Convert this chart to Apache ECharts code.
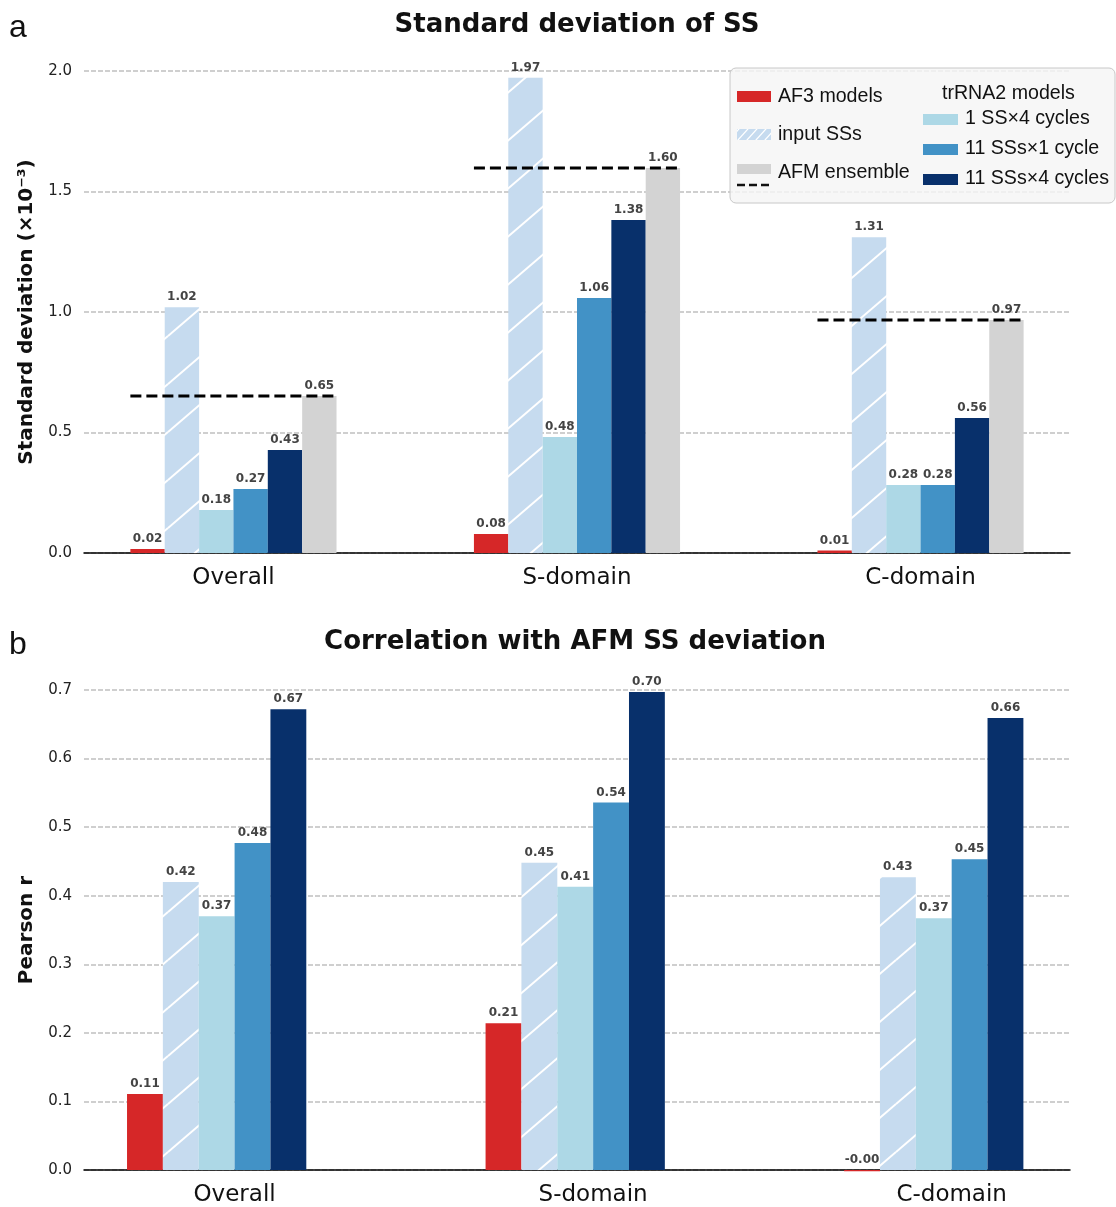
<!DOCTYPE html>
<html>
<head>
<meta charset="utf-8">
<script src="https://cdn.jsdelivr.net/npm/echarts@6/dist/echarts.min.js"></script>
<style>
html,body{margin:0;padding:0;background:#fff;}
#main{width:1116px;height:1207px;}
</style>
</head>
<body>
<div id="main"></div>
<script>
// ---------- data ----------
const categories = ['Overall', 'S-domain', 'C-domain'];
const categoryPos = [0, 1, 2];

// panel a: standard deviation of SS (x10^-3)
const sdAF3 = [0.017, 0.079, 0.010];
const sdInput = [1.02, 1.972, 1.31];
const sdOne4 = [0.178, 0.481, 0.282];
const sdEleven1 = [0.266, 1.058, 0.282];
const sdEleven4 = [0.427, 1.382, 0.56];
const sdAFM = [0.651, 1.598, 0.967];

// panel b: Pearson r with AFM SS deviation
const rAF3 = [0.111, 0.214, -0.002];
const rInput = [0.42, 0.448, 0.427];
const rOne4 = [0.37, 0.413, 0.367];
const rEleven1 = [0.477, 0.536, 0.453];
const rEleven4 = [0.672, 0.697, 0.659];

const sdTicks = [0, 0.5, 1.0, 1.5, 2.0];
const rTicks = [0, 0.1, 0.2, 0.3, 0.4, 0.5, 0.6, 0.7];

// ---------- styles ----------
const C_RED = '#d62728', C_HATCH = '#c6dbef', C_LIGHT = '#add8e6', C_MID = '#4292c6', C_NAVY = '#08306b', C_GRAY = '#d3d3d3';
const FONT = '"DejaVu Sans", sans-serif';
const LFONT = '"Liberation Sans", Arial, sans-serif';

function makeHatch(w, h, bg, lw) {
  const c = document.createElement('canvas');
  c.width = w; c.height = h;
  const g = c.getContext('2d');
  g.fillStyle = bg; g.fillRect(0, 0, w, h);
  g.strokeStyle = '#ffffff'; g.lineWidth = lw;
  for (const dx of [-w, 0, w]) for (const dy of [-h, 0, h]) {
    g.beginPath(); g.moveTo(dx, h + dy); g.lineTo(w + dx, dy); g.stroke();
  }
  return c;
}
const hatchBig = { image: makeHatch(56, 48, C_HATCH, 2), repeat: 'repeat' };
const hatchSmall = { image: makeHatch(9, 10, C_HATCH, 1.2), repeat: 'repeat' };

const BW = 0.1;
function barSeries(data, offset, fill, axisIdx) {
  return {
    type: 'custom',
    xAxisIndex: axisIdx, yAxisIndex: axisIdx,
    data: data.map((v, i) => [categoryPos[i], v]),
    z: 3,
    renderItem: function (params, api) {
      const x = api.value(0) + offset;
      const v = api.value(1);
      const p0 = api.coord([x - BW / 2, 0]);
      const p1 = api.coord([x + BW / 2, v]);
      const top = Math.min(p0[1], p1[1]);
      return {
        type: 'group',
        children: [
          { type: 'rect', shape: { x: p0[0], y: top, width: p1[0] - p0[0], height: Math.abs(p1[1] - p0[1]) },
            style: { fill: fill } },
          { type: 'text', style: { x: (p0[0] + p1[0]) / 2, y: top - 4, text: v.toFixed(2),
            font: 'bold 12px ' + FONT, fill: '#444444', align: 'center', verticalAlign: 'bottom' } }
        ]
      };
    }
  };
}

const afmLine = {
  type: 'custom', xAxisIndex: 0, yAxisIndex: 0, z: 5,
  data: sdAFM.map((v, i) => [categoryPos[i], v]),
  renderItem: function (params, api) {
    const x = api.value(0), v = api.value(1);
    const a = api.coord([x - 0.3, v]), b = api.coord([x + 0.3, v]);
    return { type: 'line', shape: { x1: a[0], y1: a[1], x2: b[0], y2: b[1] },
      style: { stroke: '#000', lineWidth: 3, lineDash: [11, 5] } };
  }
};

function xAxisCfg(grid, min, max) {
  return {
    type: 'value', gridIndex: grid, min: min, max: max,
    splitLine: { show: false },
    axisTick: { show: false },
    axisLine: { show: true, onZero: false, lineStyle: { color: '#000', width: 1.5 } },
    axisLabel: { customValues: categoryPos, formatter: v => categories[Math.round(v)],
      fontSize: 23, fontFamily: FONT, color: '#111', margin: 14 }
  };
}
function yAxisCfg(grid, ticks, name) {
  return {
    type: 'value', gridIndex: grid, min: ticks[0], max: ticks[ticks.length - 1],
    interval: ticks[1] - ticks[0],
    name: name, nameLocation: 'middle', nameGap: 46, nameRotate: 90,
    nameTextStyle: { fontSize: 20, fontWeight: 'bold', fontFamily: FONT, color: '#111' },
    axisLine: { show: false }, axisTick: { show: false },
    axisLabel: { formatter: v => v.toFixed(1), fontSize: 15, fontFamily: FONT, color: '#222', margin: 12 },
    splitLine: { show: true, lineStyle: { color: '#cfcfcf', width: 2.2, type: [5, 2] } }
  };
}

function gtext(x, y, text, font, align, extra) {
  return Object.assign({ type: 'text', x: x, y: y, z: 100,
    style: { text: text, font: font, fill: '#111', align: align || 'left', verticalAlign: 'middle' } }, extra || {});
}
function grect(x, y, w, h, fill) {
  return { type: 'rect', z: 100, shape: { x: x, y: y, width: w, height: h }, style: { fill: fill } };
}

const LF = '19.6px ' + LFONT;
const legendItems = [
  { type: 'rect', z: 99, shape: { x: 730, y: 68, width: 385, height: 135, r: 6 },
    style: { fill: 'rgba(245,245,245,0.82)', stroke: '#c8c8c8', lineWidth: 1 } },
  grect(737, 91, 34, 11, C_RED),
  gtext(778, 97, 'AF3 models', LF),
  grect(737, 129, 34, 11, hatchSmall),
  gtext(778, 135, 'input SSs', LF),
  grect(737, 164, 34, 10, C_GRAY),
  { type: 'line', z: 100, shape: { x1: 737, y1: 185, x2: 771, y2: 185 },
    style: { stroke: '#111', lineWidth: 2.5, lineDash: [8, 4] } },
  gtext(778, 173, 'AFM ensemble', LF),
  gtext(942, 94, 'trRNA2 models', LF),
  grect(923, 114, 35, 11, C_LIGHT),
  gtext(965, 119, '1 SS\u00d74 cycles', LF),
  grect(923, 144, 35, 11, C_MID),
  gtext(965, 149, '11 SSs\u00d71 cycle', LF),
  grect(923, 174, 35, 11, C_NAVY),
  gtext(965, 179, '11 SSs\u00d74 cycles', LF)
];

const chart = echarts.init(document.getElementById('main'), null, { renderer: 'canvas' });
chart.setOption({
  backgroundColor: '#ffffff',
  animation: false,
  grid: [
    { left: 84, top: 71, width: 986, height: 482 },
    { left: 84, top: 690, width: 986, height: 481 }
  ],
  xAxis: [xAxisCfg(0, -0.435, 2.435), xAxisCfg(1, -0.42, 2.33)],
  yAxis: [yAxisCfg(0, sdTicks, 'Standard deviation (\u00d710\u207b\u00b3)'), yAxisCfg(1, rTicks, 'Pearson r')],
  series: [
    barSeries(sdAF3, -0.25, C_RED, 0),
    barSeries(sdInput, -0.15, hatchBig, 0),
    barSeries(sdOne4, -0.05, C_LIGHT, 0),
    barSeries(sdEleven1, 0.05, C_MID, 0),
    barSeries(sdEleven4, 0.15, C_NAVY, 0),
    barSeries(sdAFM, 0.25, C_GRAY, 0),
    afmLine,
    barSeries(rAF3, -0.25, C_RED, 1),
    barSeries(rInput, -0.15, hatchBig, 1),
    barSeries(rOne4, -0.05, C_LIGHT, 1),
    barSeries(rEleven1, 0.05, C_MID, 1),
    barSeries(rEleven4, 0.15, C_NAVY, 1)
  ],
  graphic: [
    gtext(577, 25, 'Standard deviation of SS', 'bold 26px ' + FONT, 'center'),
    gtext(575, 642, 'Correlation with AFM SS deviation', 'bold 26px ' + FONT, 'center'),
    gtext(18, 28, 'a', '32px ' + LFONT, 'center'),
    gtext(18, 645, 'b', '32px ' + LFONT, 'center')
  ].concat(legendItems)
});
</script>
</body>
</html>
